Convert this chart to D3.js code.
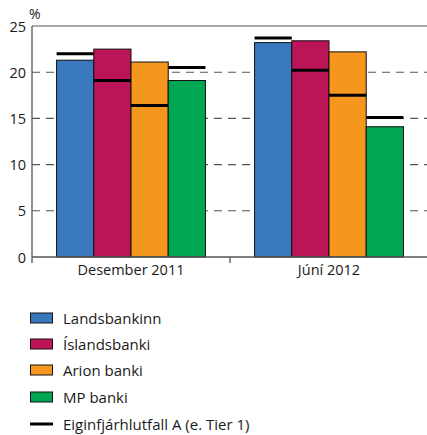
<!DOCTYPE html>
<html>
<head>
<meta charset="utf-8">
<script src="https://cdn.jsdelivr.net/npm/d3@7"></script>
<style>
  html, body { margin: 0; padding: 0; background: #fff; }
  svg { display: block; }
  text { font-family: "Open Sans", "Noto Sans", sans-serif; fill: #1a1a1a; }
</style>
</head>
<body>
<svg id="chart" width="427" height="435"></svg>
<script>
// Periods on the x axis
const periods = ["Desember 2011", "Júní 2012"];
// Banks (series)
const banks = ["Landsbankinn", "Íslandsbanki", "Arion banki", "MP banki"];
const bankColors = ["#3a78bd", "#bb1558", "#f5961f", "#00a651"];
// Capital adequacy ratio, % (bars), one array per bank: [Des 2011, Jún 2012]
const landsbankinn = [21.3, 23.2];
const islandsbanki = [22.5, 23.4];
const arionBanki = [21.1, 22.2];
const mpBanki = [19.1, 14.1];
// Tier 1 ratio, % (horizontal markers)
const tier1Landsbankinn = [22.0, 23.7];
const tier1Islandsbanki = [19.1, 20.2];
const tier1Arion = [16.4, 17.5];
const tier1Mp = [20.5, 15.1];
// Y axis ticks
const yTicks = [0, 5, 10, 15, 20, 25];
const tier1Label = "Eiginfjárhlutfall A (e. Tier 1)";

const ratios = [landsbankinn, islandsbanki, arionBanki, mpBanki];
const tier1 = [tier1Landsbankinn, tier1Islandsbanki, tier1Arion, tier1Mp];

const svg = d3.select("#chart");
const plotLeft = 32, plotRight = 428, plotTop = 26, plotBottom = 257;

const x = d3.scaleBand().domain(periods).range([plotLeft, plotRight]).paddingInner(0).paddingOuter(0);
const xi = d3.scaleBand().domain(banks).range([0, x.bandwidth()]).paddingInner(0).paddingOuter(0.66);
const y = d3.scaleLinear().domain([0, 25]).range([plotBottom, plotTop]);

// dashed gridlines
svg.append("g").selectAll("line")
  .data(yTicks.filter(t => t > 0 && t < 25))
  .join("line")
  .attr("x1", plotLeft).attr("x2", plotRight + 2)
  .attr("y1", d => y(d)).attr("y2", d => y(d))
  .attr("stroke", "#555").attr("stroke-width", 1.1)
  .attr("stroke-dasharray", "8,6");

// top frame line
svg.append("line")
  .attr("x1", plotLeft).attr("x2", plotRight + 2)
  .attr("y1", y(25)).attr("y2", y(25))
  .attr("stroke", "#555").attr("stroke-width", 1.2);

// bars
const groups = svg.append("g").selectAll("g")
  .data(periods)
  .join("g")
  .attr("transform", d => `translate(${x(d)},0)`);

groups.selectAll("rect")
  .data((p, pi) => banks.map((b, bi) => ({ b, bi, v: ratios[bi][pi] })))
  .join("rect")
  .attr("x", d => xi(d.b))
  .attr("width", xi.bandwidth())
  .attr("y", d => y(d.v))
  .attr("height", d => y(0) - y(d.v))
  .attr("fill", d => bankColors[d.bi])
  .attr("stroke", "#111").attr("stroke-width", 1);

// Tier 1 markers
groups.selectAll("line.t1")
  .data((p, pi) => banks.map((b, bi) => ({ b, v: tier1[bi][pi] })))
  .join("line")
  .attr("class", "t1")
  .attr("x1", d => xi(d.b))
  .attr("x2", d => xi(d.b) + xi.bandwidth())
  .attr("y1", d => y(d.v)).attr("y2", d => y(d.v))
  .attr("stroke", "#000").attr("stroke-width", 3);

// axes lines
svg.append("line")
  .attr("x1", plotLeft).attr("x2", plotRight + 2)
  .attr("y1", plotBottom).attr("y2", plotBottom)
  .attr("stroke", "#555").attr("stroke-width", 1.3);
svg.append("line")
  .attr("x1", plotLeft).attr("x2", plotLeft)
  .attr("y1", plotTop).attr("y2", plotBottom + 6)
  .attr("stroke", "#555").attr("stroke-width", 1.3);

// category boundary tick
svg.append("line")
  .attr("x1", x(periods[1])).attr("x2", x(periods[1]))
  .attr("y1", plotBottom).attr("y2", plotBottom + 6)
  .attr("stroke", "#555").attr("stroke-width", 1.3);

// y tick labels
svg.append("g").selectAll("text")
  .data(yTicks)
  .join("text")
  .attr("x", 26).attr("y", d => y(d) + 5.5)
  .attr("text-anchor", "end")
  .attr("font-size", 14.5)
  .text(d => d);

svg.append("text").attr("x", 29).attr("y", 19).attr("font-size", 14).text("%");

// x category labels
svg.append("g").selectAll("text")
  .data(periods)
  .join("text")
  .attr("x", d => x(d) + x.bandwidth() / 2)
  .attr("y", 275)
  .attr("text-anchor", "middle")
  .attr("font-size", 14.5)
  .text(d => d);

// legend
const legendY = [318, 344, 370, 397, 424];
banks.forEach((b, i) => {
  svg.append("rect")
    .attr("x", 30.5).attr("y", legendY[i] - 5).attr("width", 22).attr("height", 10)
    .attr("fill", bankColors[i]).attr("stroke", "#111").attr("stroke-width", 1);
  svg.append("text").attr("x", 63).attr("y", legendY[i] + 5.5).attr("font-size", 15).text(b);
});
svg.append("line")
  .attr("x1", 30).attr("x2", 53)
  .attr("y1", legendY[4]).attr("y2", legendY[4])
  .attr("stroke", "#000").attr("stroke-width", 3);
svg.append("text").attr("x", 63).attr("y", legendY[4] + 5.5).attr("font-size", 15).text(tier1Label);
</script>
</body>
</html>
